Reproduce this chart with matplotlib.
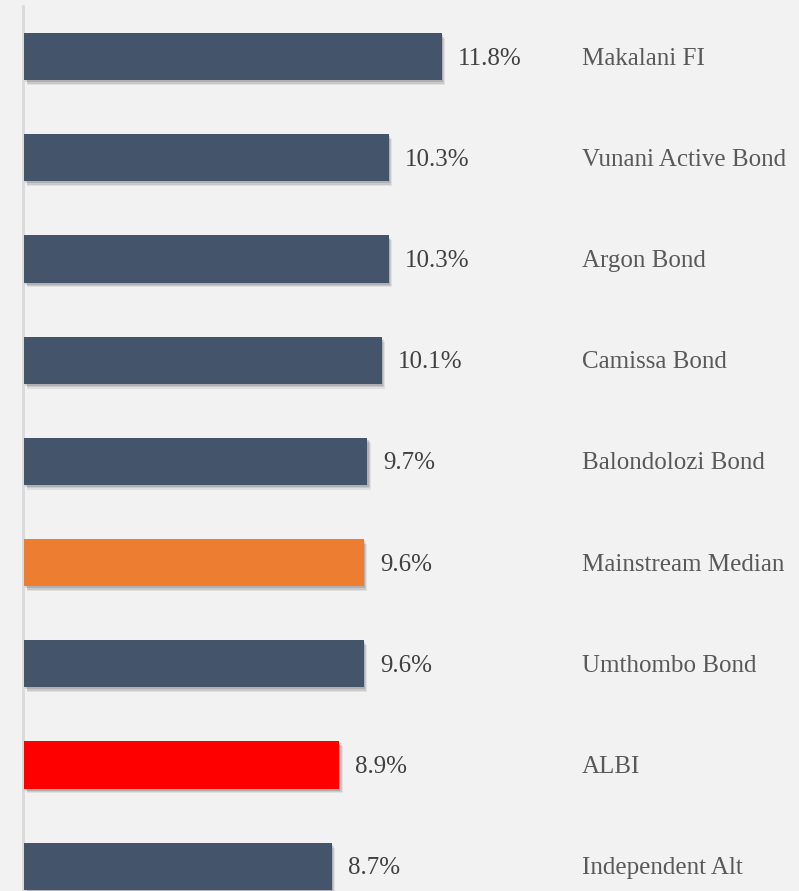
import matplotlib
matplotlib.use("Agg")
import matplotlib.pyplot as plt
import matplotlib.patheffects as pe
import matplotlib.transforms as mtransforms

categories = ["Makalani FI", "Vunani Active Bond", "Argon Bond", "Camissa Bond",
              "Balondolozi Bond", "Mainstream Median", "Umthombo Bond", "ALBI",
              "Independent Alt"]
values = [11.8, 10.3, 10.3, 10.1, 9.7, 9.6, 9.6, 8.9, 8.7]
value_labels = ["11.8%", "10.3%", "10.3%", "10.1%", "9.7%", "9.6%", "9.6%", "8.9%", "8.7%"]
colors = ["#44546a", "#44546a", "#44546a", "#44546a", "#44546a", "#ed7d31",
          "#44546a", "#ff0000", "#44546a"]

W, H = 799, 891
fig = plt.figure(figsize=(W / 100, H / 100), dpi=100)
fig.patch.set_facecolor("#f2f2f2")

px_per_unit = 35.4
left_px = 22.5
top_px = 6
step_px = 101.2
ax_h_px = 9 * step_px
ax = fig.add_axes([left_px / W, 1 - (top_px + ax_h_px) / H, (W - left_px) / W, ax_h_px / H])
ax.set_facecolor("#f2f2f2")

ypos = list(range(len(categories)))
bars = ax.barh(ypos, values, height=0.465, color=colors, zorder=3)
for b in bars:
    b.set_path_effects([
        pe.SimplePatchShadow(offset=(2.5, -3.5), shadow_rgbFace="black", alpha=0.07),
        pe.SimplePatchShadow(offset=(1.8, -2.5), shadow_rgbFace="black", alpha=0.10),
        pe.SimplePatchShadow(offset=(1.0, -1.5), shadow_rgbFace="black", alpha=0.12),
        pe.Normal(),
    ])

ax.set_ylim(8.5, -0.5)
x0 = -1.5 / px_per_unit
ax.set_xlim(x0, x0 + (W - left_px) / px_per_unit)

for s in ["top", "right", "bottom"]:
    ax.spines[s].set_visible(False)
ax.spines["left"].set_color("#d9d9d9")
ax.spines["left"].set_linewidth(2.0)
ax.spines["left"].set_position(("data", x0))
ax.set_xticks([])
ax.set_yticks([])

font = "Liberation Serif"
for i, (v, lab) in enumerate(zip(values, value_labels)):
    ax.annotate(lab, xy=(v, i), xytext=(11.5, -1.5), textcoords="offset points",
                ha="left", va="center", fontsize=18, color="#404040", family=font)

trans = mtransforms.blended_transform_factory(fig.transFigure, ax.transData)
for i, c in enumerate(categories):
    ax.annotate(c, xy=(582 / W, i), xycoords=trans, xytext=(0, -1.5),
                textcoords="offset points", ha="left", va="center",
                fontsize=18, color="#595959", family=font)

fig.savefig("out.png", dpi=100, facecolor=fig.get_facecolor())
